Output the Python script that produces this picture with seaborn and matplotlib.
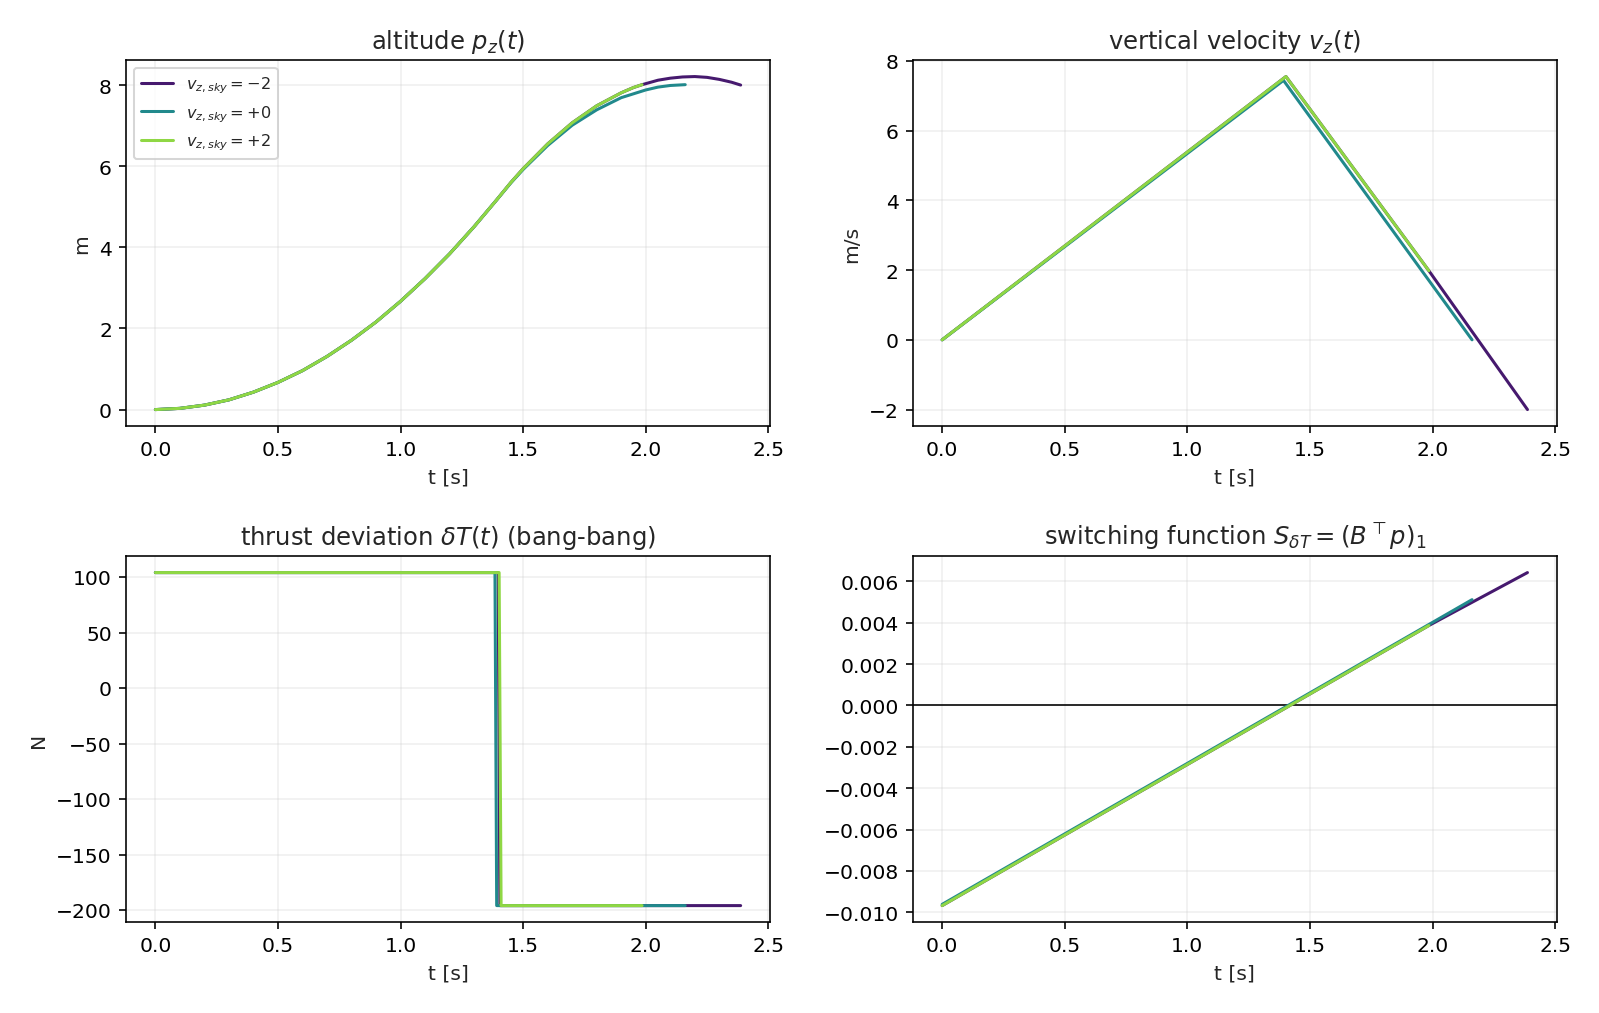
import matplotlib
matplotlib.use("Agg")
import matplotlib.pyplot as plt
import seaborn as sns
import pandas as pd

# series labels and colours (final vertical speed)
labels = [r"$v_{z,sky}=-2$", r"$v_{z,sky}=+0$", r"$v_{z,sky}=+2$"]
colors = ["#46196e", "#21898c", "#8fd744"]

# altitude p_z(t) [m]
alt_t_m2 = [0, 0.1, 0.2, 0.3, 0.4, 0.5, 0.6, 0.7, 0.8, 0.9, 1.0, 1.1, 1.2, 1.3, 1.392, 1.402,
            1.45, 1.5, 1.6, 1.7, 1.8, 1.9, 1.95, 1.985,
            2.05, 2.1, 2.15, 2.2, 2.25, 2.3, 2.35, 2.387]
alt_p_m2 = [0, 0.03, 0.11, 0.24, 0.43, 0.67, 0.96, 1.31, 1.71, 2.16, 2.67, 3.23, 3.84, 4.51, 5.17, 5.245,
            5.60, 5.94, 6.55, 7.07, 7.49, 7.81, 7.94, 8.01,
            8.12, 8.17, 8.20, 8.21, 8.19, 8.14, 8.07, 8.00]
alt_t_0 = [0, 0.1, 0.2, 0.3, 0.4, 0.5, 0.6, 0.7, 0.8, 0.9, 1.0, 1.1, 1.2, 1.3, 1.392,
           1.45, 1.5, 1.6, 1.7, 1.8, 1.9, 2.0, 2.05, 2.1, 2.161]
alt_p_0 = [0, 0.03, 0.11, 0.24, 0.43, 0.67, 0.96, 1.31, 1.71, 2.16, 2.67, 3.23, 3.84, 4.51, 5.17,
           5.59, 5.92, 6.51, 7.01, 7.39, 7.69, 7.88, 7.95, 7.99, 8.01]
alt_t_p2 = [0, 0.1, 0.2, 0.3, 0.4, 0.5, 0.6, 0.7, 0.8, 0.9, 1.0, 1.1, 1.2, 1.3, 1.392, 1.402,
            1.45, 1.5, 1.6, 1.7, 1.8, 1.9, 1.95, 1.985]
alt_p_p2 = [0, 0.03, 0.11, 0.24, 0.43, 0.67, 0.96, 1.31, 1.71, 2.16, 2.67, 3.23, 3.84, 4.51, 5.17, 5.245,
            5.60, 5.94, 6.55, 7.07, 7.49, 7.81, 7.94, 8.01]

# vertical velocity v_z(t) [m/s]
vel_t_m2 = [0, 1.402, 1.985, 2.387]
vel_v_m2 = [0, 7.55, 1.98, -2.0]
vel_t_0 = [0, 1.392, 2.161]
vel_v_0 = [0, 7.44, 0.0]
vel_t_p2 = [0, 1.402, 1.985]
vel_v_p2 = [0, 7.55, 1.98]

# thrust deviation dT(t) [N]
thr_t_m2 = [0, 1.398, 1.405, 2.387]
thr_v_m2 = [104, 104, -196, -196]
thr_t_0 = [0, 1.385, 1.392, 2.161]
thr_v_0 = [104, 104, -196, -196]
thr_t_p2 = [0, 1.402, 1.410, 1.985]
thr_v_p2 = [104, 104, -196, -196]

# switching function
sw_t_m2 = [0, 1.985, 2.387]
sw_v_m2 = [-0.00968, 0.00387, 0.00643]
sw_t_0 = [0, 2.161]
sw_v_0 = [-0.00962, 0.00512]
sw_t_p2 = [0, 1.985]
sw_v_p2 = [-0.00968, 0.00387]

panels = [
    ("alt", [(alt_t_m2, alt_p_m2), (alt_t_0, alt_p_0), (alt_t_p2, alt_p_p2)]),
    ("vel", [(vel_t_m2, vel_v_m2), (vel_t_0, vel_v_0), (vel_t_p2, vel_v_p2)]),
    ("thr", [(thr_t_m2, thr_v_m2), (thr_t_0, thr_v_0), (thr_t_p2, thr_v_p2)]),
    ("sw", [(sw_t_m2, sw_v_m2), (sw_t_0, sw_v_0), (sw_t_p2, sw_v_p2)]),
]

rows = []
for name, series in panels:
    for lab, (tt, vv) in zip(labels, series):
        for a, b in zip(tt, vv):
            rows.append({"panel": name, "series": lab, "t": a, "val": b})
df = pd.DataFrame(rows)

sns.set_style("ticks")
plt.rcParams["font.family"] = ["DejaVu Sans"]

fig, axes = plt.subplots(2, 2, figsize=(11, 6.971), dpi=145.45)
fig.subplots_adjust(left=0.0788, right=0.973, top=0.940, bottom=0.0895,
                    wspace=0.222, hspace=0.354)

titles = [r"altitude $p_z(t)$", r"vertical velocity $v_z(t)$",
          r"thrust deviation $\delta T(t)$ (bang-bang)",
          r"switching function $S_{\delta T} = (B^\top p)_1$"]
ylabels = ["m", "m/s", "N", ""]

for ax, (name, _), title, yl in zip(axes.flat, panels, titles, ylabels):
    if name == "sw":
        ax.axhline(0, color="k", lw=0.8)
    sns.lineplot(data=df[df.panel == name], x="t", y="val", hue="series",
                 hue_order=labels, palette=colors, sort=False, estimator=None,
                 lw=1.5, legend=False, ax=ax)
    ax.set_title(title, fontsize=12)
    ax.set_xlabel("t [s]")
    ax.set_ylabel(yl)
    ax.grid(True, alpha=0.3)
    for s in ax.spines.values():
        s.set_color("black")
    ax.tick_params(colors="black")

ax0 = axes[0, 0]
ax0.legend([l for l in ax0.lines[:3]], labels, loc="upper left", fontsize=8)

fig.savefig("out.png", dpi=145.45)
